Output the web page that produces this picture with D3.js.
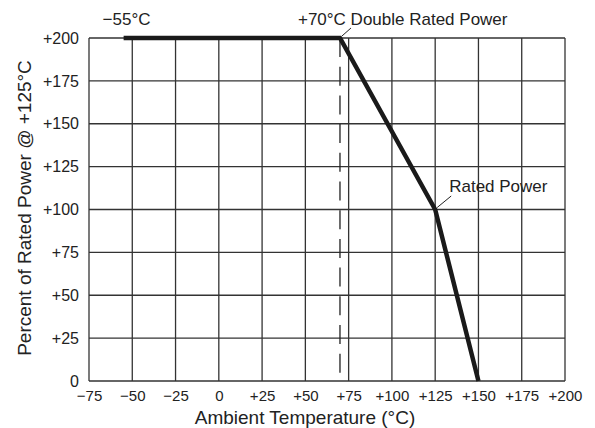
<!DOCTYPE html>
<html>
<head>
<meta charset="utf-8">
<script src="https://cdn.jsdelivr.net/npm/d3@7"></script>
<style>
  body { margin: 0; background: #fff; }
  svg { display: block; font-family: "Liberation Sans", Arial, sans-serif; }
</style>
</head>
<body>
<div id="chart"></div>
<script>
const xTicks = [-75, -50, -25, 0, 25, 50, 75, 100, 125, 150, 175, 200];
const yTicks = [0, 25, 50, 75, 100, 125, 150, 175, 200];
const tempC = [-55, 70, 125, 150];
const percentPower = [200, 200, 100, 0];
const dashedTemp = 70;

const width = 595, height = 428;
const margin = { left: 89, right: 30, top: 38, bottom: 47 };

const svg = d3.select("#chart").append("svg")
    .attr("width", width)
    .attr("height", height);

const x = d3.scaleLinear().domain([-75, 200]).range([margin.left, width - margin.right]);
const y = d3.scaleLinear().domain([0, 200]).range([height - margin.bottom, margin.top]);

const fmt = d => d > 0 ? "+" + d : (d < 0 ? "\u2212" + Math.abs(d) : "0");

// grid
svg.append("g").selectAll("line")
    .data(xTicks)
    .enter().append("line")
    .attr("x1", d => x(d)).attr("x2", d => x(d))
    .attr("y1", y(0)).attr("y2", y(200))
    .attr("stroke", "#333").attr("stroke-width", 1.3);

svg.append("g").selectAll("line")
    .data(yTicks)
    .enter().append("line")
    .attr("x1", x(-75)).attr("x2", x(200))
    .attr("y1", d => y(d)).attr("y2", d => y(d))
    .attr("stroke", "#333").attr("stroke-width", 1.3);

// axes (labels only)
const xAxis = svg.append("g")
    .attr("transform", `translate(0, ${y(0)})`)
    .call(d3.axisBottom(x).tickValues(xTicks).tickFormat(fmt).tickSize(0).tickPadding(9));
xAxis.select(".domain").remove();
xAxis.selectAll("text").style("font-size", "15px").attr("fill", "#222");

const yAxis = svg.append("g")
    .attr("transform", `translate(${x(-75)}, 0)`)
    .call(d3.axisLeft(y).tickValues(yTicks).tickFormat(fmt).tickSize(0).tickPadding(10));
yAxis.select(".domain").remove();
yAxis.selectAll("text").style("font-size", "16px").attr("fill", "#222");

// dashed line at +70
svg.append("line")
    .attr("x1", x(dashedTemp)).attr("x2", x(dashedTemp))
    .attr("y1", y(200)).attr("y2", y(0) - 8)
    .attr("stroke", "#222").attr("stroke-width", 1.3)
    .attr("stroke-dasharray", "19,9.7");

// derating curve
const pts = tempC.map((t, i) => [t, percentPower[i]]);
svg.append("path")
    .datum(pts)
    .attr("fill", "none")
    .attr("stroke", "#1a1a1a")
    .attr("stroke-width", 4.5)
    .attr("stroke-linejoin", "miter")
    .attr("d", d3.line().x(d => x(d[0])).y(d => y(d[1])));

// annotations
svg.append("text")
    .attr("x", x(-55) - 21).attr("y", 25)
    .style("font-size", "17px").attr("fill", "#222")
    .text("\u221255\u00b0C");

svg.append("text")
    .attr("x", x(70) - 42).attr("y", 25)
    .style("font-size", "17px").attr("fill", "#222")
    .text("+70\u00b0C Double Rated Power");
svg.append("line")
    .attr("x1", x(70) + 2).attr("y1", y(200) - 2)
    .attr("x2", x(70) + 11).attr("y2", 28)
    .attr("stroke", "#222").attr("stroke-width", 1);

svg.append("text")
    .attr("x", x(125) + 14).attr("y", 192)
    .style("font-size", "17px").attr("fill", "#222")
    .text("Rated Power");
svg.append("line")
    .attr("x1", x(125) + 2).attr("y1", y(100) - 2)
    .attr("x2", x(125) + 16).attr("y2", 196)
    .attr("stroke", "#222").attr("stroke-width", 1);

// axis titles
svg.append("text")
    .attr("x", 305).attr("y", 424)
    .attr("text-anchor", "middle")
    .style("font-size", "19px").attr("fill", "#222")
    .text("Ambient Temperature (\u00b0C)");

svg.append("text")
    .attr("transform", `translate(31, 208) rotate(-90)`)
    .attr("text-anchor", "middle")
    .style("font-size", "19px").attr("fill", "#222")
    .text("Percent of Rated Power @ +125\u00b0C");
</script>
</body>
</html>
